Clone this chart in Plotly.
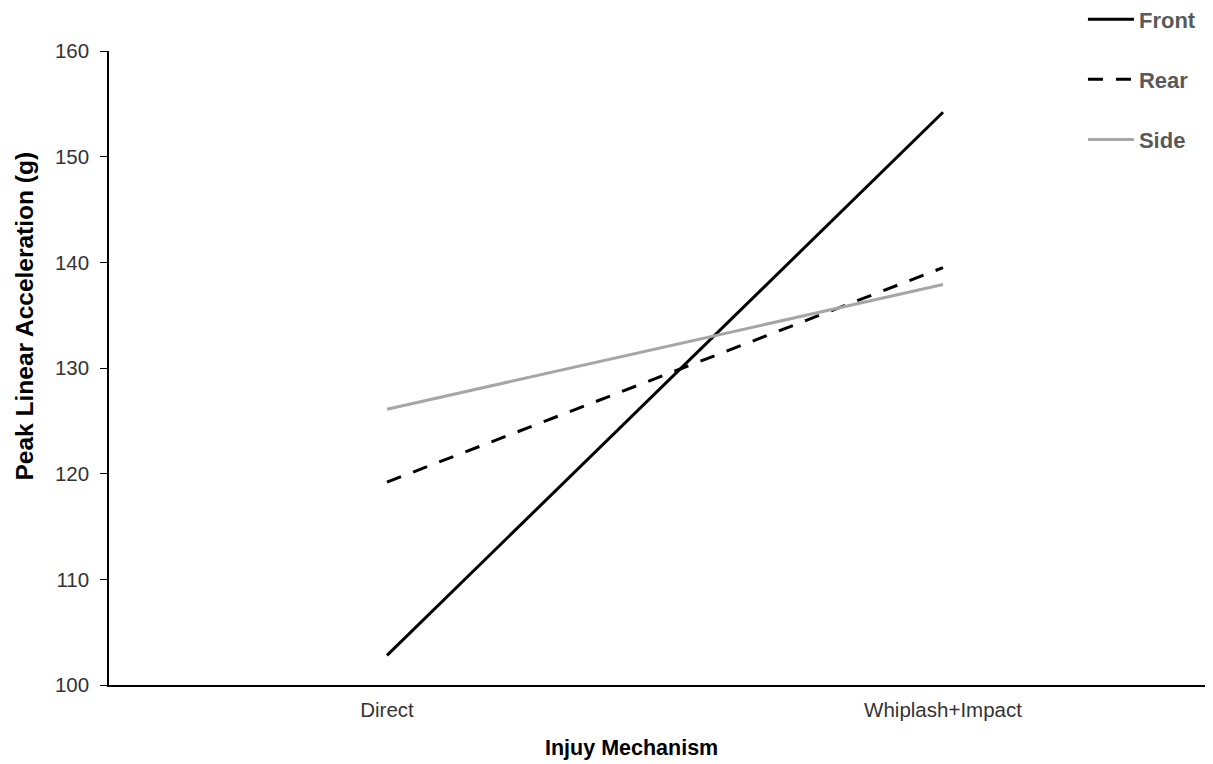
import plotly.graph_objects as go

categories = ["Direct", "Whiplash+Impact"]
front = [102.8, 154.2]
rear = [119.2, 139.5]
side = [126.1, 137.9]
y_ticks = [100, 110, 120, 130, 140, 150, 160]

fig = go.Figure()
fig.add_trace(go.Scatter(x=categories, y=front, name="Front", mode="lines",
                         line=dict(color="black", width=3), legendgroup="a"))
fig.add_trace(go.Scatter(x=categories, y=rear, name="Rear", mode="lines",
                         line=dict(color="black", width=3, dash="15px,13px"), legendgroup="b"))
fig.add_trace(go.Scatter(x=categories, y=side, name="Side", mode="lines",
                         line=dict(color="#a6a6a6", width=3), legendgroup="c"))

fig.update_layout(
    width=1205, height=756,
    margin=dict(l=101, r=0, t=43, b=79, autoexpand=False),
    plot_bgcolor="white", paper_bgcolor="white",
    font=dict(family="Liberation Sans, Arial, sans-serif", size=20, color="#333333"),
    xaxis=dict(type="category", range=[-0.5, 1.4856], showline=True, linecolor="black",
               linewidth=1.5, ticks="", showgrid=False, zeroline=False,
               ticklabelstandoff=6,
               tickfont=dict(size=20.5, color="#333333")),
    yaxis=dict(range=[100, 160], tickvals=y_ticks, showline=True, linecolor="black",
               linewidth=1.5, ticks="outside", ticklen=7, tickcolor="black",
               ticklabelstandoff=7,
               showgrid=False, zeroline=False, tickfont=dict(size=20.5, color="#333333")),
    legend=dict(xref="paper", yref="paper", x=0.8822, y=1.083, xanchor="left",
                yanchor="top", font=dict(size=22, color="#595959", weight="bold"),
                tracegroupgap=28.5, itemwidth=46, bgcolor="rgba(0,0,0,0)"),
    showlegend=True,
)
fig.add_annotation(text="<b>Injuy Mechanism</b>", xref="paper", yref="paper",
                   x=0.4737, y=-0.099, yanchor="middle", showarrow=False,
                   font=dict(size=21.5, color="black"))
fig.add_annotation(text="<b>Peak Linear Acceleration (g)</b>", xref="paper", yref="paper",
                   x=-0.0761, y=0.5828, xanchor="center", yanchor="middle", textangle=-90,
                   showarrow=False, font=dict(size=24.5, color="black"))

fig.write_html("out.html")
